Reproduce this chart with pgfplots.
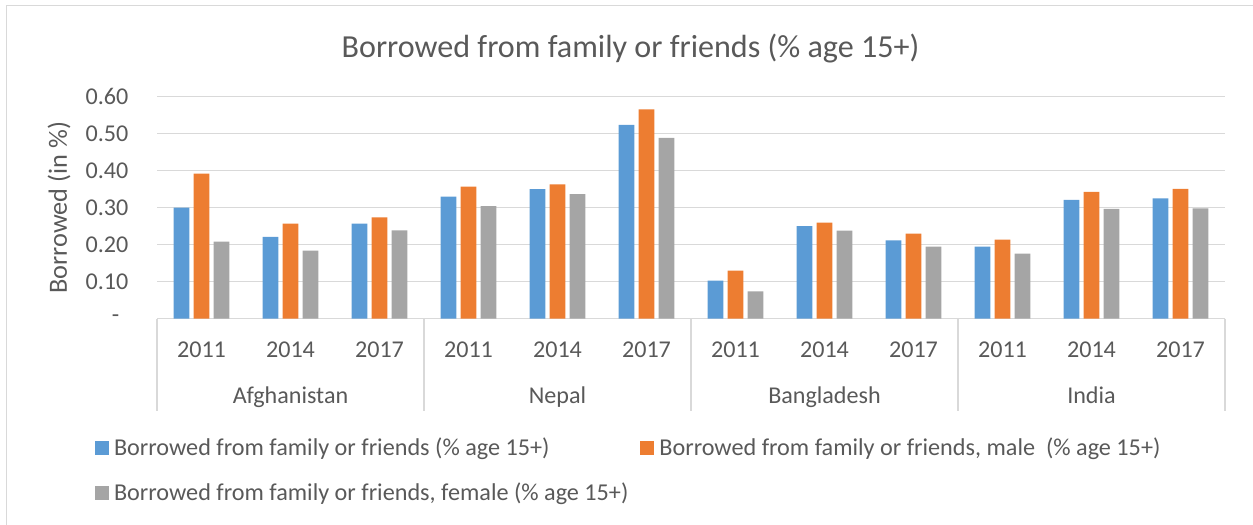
\documentclass[border=0pt]{standalone}
\usepackage{pgfplots}
\pgfplotsset{compat=1.18}
\usepackage{pgfplotstable}
\usepackage{fontspec}
\setmainfont{Carlito}

\definecolor{sblue}{HTML}{5B9BD5}
\definecolor{sorange}{HTML}{ED7D31}
\definecolor{sgray}{HTML}{A5A5A5}
\definecolor{gridgray}{HTML}{D9D9D9}
\definecolor{txt}{HTML}{595959}

% x: 0-2 Afghanistan, 3-5 Nepal, 6-8 Bangladesh, 9-11 India (2011, 2014, 2017)
\pgfplotstableread{
x  total  male   female
0  0.300  0.392  0.208
1  0.221  0.257  0.184
2  0.257  0.274  0.239
3  0.330  0.357  0.304
4  0.350  0.363  0.337
5  0.524  0.566  0.489
6  0.103  0.130  0.074
7  0.250  0.260  0.238
8  0.212  0.230  0.195
9  0.195  0.214  0.176
10 0.321  0.343  0.297
11 0.325  0.351  0.298
}\borrowed

\newcommand{\lblfont}{\fontsize{24.1bp}{28bp}\selectfont}

\begin{document}
\begin{tikzpicture}
\path[use as bounding box] (0,0) rectangle (1253bp,-525bp);
% chart area frame
\draw[gridgray, line width=1.3bp] (6.7bp,-540bp) -- (6.7bp,-5.3bp) -- (1270bp,-5.3bp);
% title and value-axis title
\node[anchor=base, text=txt, font=\fontsize{32.1bp}{38bp}\selectfont, inner sep=0pt]
  at (630.5bp,-57bp) {Borrowed from family or friends (\% age 15+)};
\node[rotate=90, text=txt, font=\fontsize{26.3bp}{31bp}\selectfont, inner sep=0pt]
  at (59bp,-207.7bp) {Borrowed (in \%)};

\begin{axis}[
  at={(157bp,-318.7bp)}, anchor=south west,
  scale only axis, width=1068bp, height=222bp,
  ybar, bar width=15.7bp,
  xmin=-0.5, xmax=11.5, ymin=0, ymax=0.6,
  xtick={0,1,2,3,4,5,6,7,8,9,10,11},
  xticklabels={2011,2014,2017,2011,2014,2017,2011,2014,2017,2011,2014,2017},
  ytick={0,0.1,0.2,0.3,0.4,0.5,0.6},
  yticklabels={{-\hspace*{9bp}},0.10,0.20,0.30,0.40,0.50,0.60},
  ymajorgrids, grid style={gridgray, line width=1.3bp},
  axis line style={draw=none},
  major tick length=0pt,
  tick label style={font=\lblfont, text=txt},
  yticklabel style={anchor=east, inner sep=0pt, xshift=-28.5bp},
  xticklabel style={anchor=base, inner sep=0pt, yshift=-38.7bp},
  clip=false,
  legend columns=2,
  legend cell align=left,
  legend image code/.code={\path[#1, draw=none] (0bp,-6bp) rectangle (14bp,8bp);},
  legend style={draw=none, fill=none, inner sep=0pt, outer sep=0pt,
    at={(rel axis cs:-0.05805,-0.5329)}, anchor=north west,
    font=\fontsize{24.2bp}{28bp}\selectfont, text=txt,
    nodes={inner sep=0pt, text height=18bp, text depth=6bp},
    row sep=21bp,
    /tikz/every odd column/.append style={column sep=5bp},
    /tikz/every even column/.append style={column sep=12bp}},
]
\addplot[fill=sblue, draw=none, bar shift=-20bp] table[x=x, y=total] {\borrowed};
\addlegendentry{Borrowed from family or friends (\% age 15+)}
\addplot[fill=sorange, draw=none, bar shift=0bp] table[x=x, y=male] {\borrowed};
\addlegendentry{Borrowed from family or friends, male \ (\% age 15+)}
\addplot[fill=sgray, draw=none, bar shift=20bp] table[x=x, y=female] {\borrowed};
\addlegendentry{Borrowed from family or friends, female (\% age 15+)}

% group separators of the category axis
\pgfplotsinvokeforeach{-0.5,2.5,5.5,8.5,11.5}{
  \draw[gridgray, line width=1.3bp] (axis cs:#1,0) -- ++(0bp,-92bp);
}
% country names under the years
\node[anchor=base, inner sep=0pt, text=txt, font=\lblfont, yshift=-84.3bp] at (axis cs:1,0) {Afghanistan};
\node[anchor=base, inner sep=0pt, text=txt, font=\lblfont, yshift=-84.3bp] at (axis cs:4,0) {Nepal};
\node[anchor=base, inner sep=0pt, text=txt, font=\lblfont, yshift=-84.3bp] at (axis cs:7,0) {Bangladesh};
\node[anchor=base, inner sep=0pt, text=txt, font=\lblfont, yshift=-84.3bp] at (axis cs:10,0) {India};
\end{axis}
\end{tikzpicture}
\end{document}
